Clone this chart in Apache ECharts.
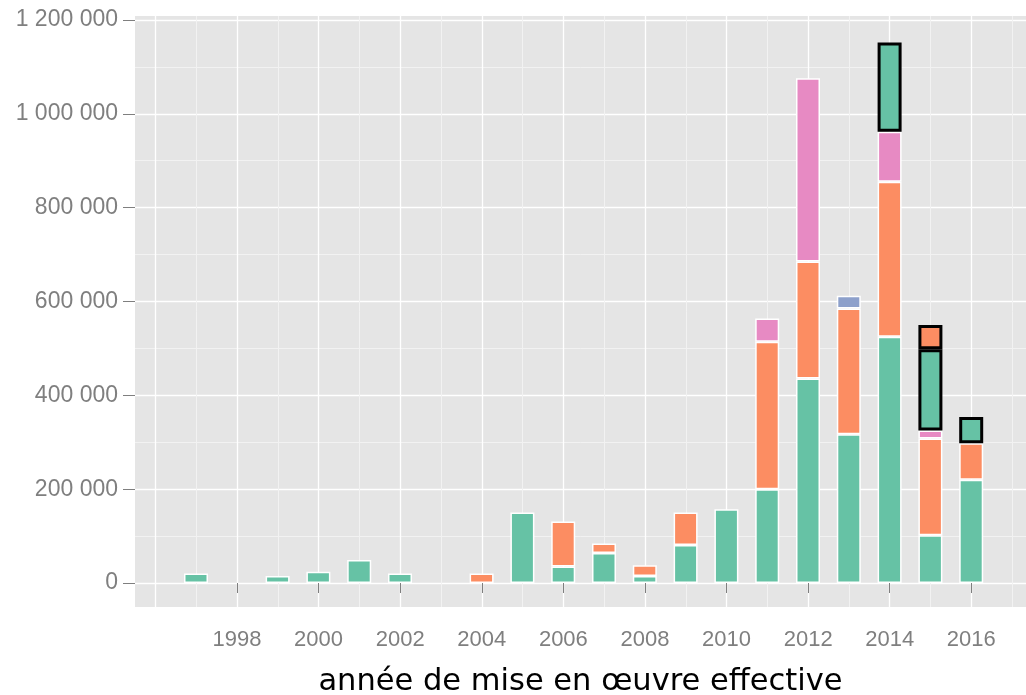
<!DOCTYPE html>
<html>
<head>
<meta charset="utf-8">
<script src="https://cdn.jsdelivr.net/npm/echarts@6/dist/echarts.min.js"></script>
<style>
html,body{margin:0;padding:0;background:#fff;}
#c{width:1026px;height:695px;}
</style>
</head>
<body>
<div id="c"></div>
<script>
const years = [1997,1998,1999,2000,2001,2002,2003,2004,2005,2006,2007,2008,2009,2010,2011,2012,2013,2014,2015,2016];
const teal   = [20000,0,15000,24000,49000,20000,0,0,150000,35000,64000,15000,81000,157000,200000,436000,317000,525000,102000,220000];
const orange = [0,0,0,0,0,0,0,20000,0,96000,20000,23000,69000,0,314000,249000,268000,330000,206000,78000];
const blue   = [0,0,0,0,0,0,0,0,0,0,0,0,0,0,0,0,27000,0,0,0];
const pink   = [0,0,0,0,0,0,0,0,0,0,0,0,0,0,50000,391000,0,107000,17000,0];
const tealHighlighted   = [0,0,0,0,0,0,0,0,0,0,0,0,0,0,0,0,0,190000,173000,56000];
const orangeHighlighted = [0,0,0,0,0,0,0,0,0,0,0,0,0,0,0,0,0,0,52000,0];
const xTickLabels = [1998,2000,2002,2004,2006,2008,2010,2012,2014,2016];
const yTickLabels = [0,200000,400000,600000,800000,1000000,1200000];
const yMinorLines = [100000,300000,500000,700000,900000,1100000];
const xGridMajor = [1996,1998,2000,2002,2004,2006,2008,2010,2012,2014,2016];
const xGridMinor = [1997,1999,2001,2003,2005,2007,2009,2011,2013,2015,2017];
const xTitle = 'année de mise en œuvre effective';

const X_MIN = 1995.5, X_MAX = 2017.34;
const Y_MIN = -51150, Y_MAX = 1208500;
const TOP = 16, BOTTOM = 88;

function toData(arr){ return arr.map(v => v ? v : null); }
function fmt(v){ return String(Math.round(v)).replace(/\B(?=(\d{3})+(?!\d))/g,' '); }

function barSeries(name, arr, color, border, bw){
  return {
    name: name, type:'bar', stack:'total', xAxisIndex:3, yAxisIndex:2,
    barWidth: 24,
    data: toData(arr),
    itemStyle:{color: color, borderColor: border, borderWidth: bw},
    emphasis:{disabled:true},
    z: border === '#000000' ? 4 : 3
  };
}

const hiddenAxis = {axisLine:{show:false}, axisTick:{show:false}, axisLabel:{show:false}, splitLine:{show:false}};

const chart = echarts.init(document.getElementById('c'), null, {renderer:'canvas'});
chart.setOption({
  animation:false,
  backgroundColor:'#ffffff',
  grid:[
    {left:135, right:0, top:TOP, bottom:BOTTOM, show:true, backgroundColor:'#E5E5E5', borderWidth:0, containLabel:false, outerBoundsMode:'none'},
    {left:175.6, right:34.4, top:TOP, bottom:BOTTOM, show:false, containLabel:false, outerBoundsMode:'none'}
  ],
  xAxis:[
    {type:'value', gridIndex:0, min:X_MIN, max:X_MAX, position:'bottom',
     axisLine:{show:false},
     axisTick:{show:true, length:10, customValues:xTickLabels, lineStyle:{color:'#7F7F7F', width:1}},
     axisLabel:{show:true, customValues:xTickLabels, color:'#7F7F7F', fontSize:22, fontFamily:'Liberation Sans', margin:22, formatter:v=>String(v)},
     splitLine:{show:false},
     name: xTitle, nameLocation:'middle', nameGap:60,
     nameTextStyle:{color:'#000000', fontSize:30.5, fontFamily:'DejaVu Sans'}},
    {type:'value', gridIndex:0, min:X_MIN, max:X_MAX, position:'bottom',
     axisLine:{show:false}, axisTick:{show:false, customValues:xGridMinor}, axisLabel:{show:false, customValues:xGridMinor},
     splitLine:{show:true, lineStyle:{color:'#F2F2F2', width:1}}},
    {type:'value', gridIndex:0, min:X_MIN, max:X_MAX, position:'bottom',
     axisLine:{show:false}, axisTick:{show:false, customValues:xGridMajor}, axisLabel:{show:false, customValues:xGridMajor},
     splitLine:{show:true, lineStyle:{color:'#FFFFFF', width:1.3}}},
    Object.assign({type:'category', gridIndex:1, data:years, boundaryGap:true}, hiddenAxis)
  ],
  yAxis:[
    {type:'value', gridIndex:0, min:Y_MIN, max:Y_MAX,
     axisLine:{show:false},
     axisTick:{show:true, length:12, customValues:yTickLabels, lineStyle:{color:'#7F7F7F', width:1}},
     axisLabel:{show:true, customValues:yTickLabels, color:'#7F7F7F', fontSize:23, fontFamily:'Liberation Sans', margin:17, formatter:fmt},
     splitLine:{show:true, lineStyle:{color:'#FFFFFF', width:1.3}}},
    {type:'value', gridIndex:0, min:Y_MIN, max:Y_MAX, position:'left',
     axisLine:{show:false}, axisTick:{show:false, customValues:yMinorLines}, axisLabel:{show:false, customValues:yMinorLines},
     splitLine:{show:true, lineStyle:{color:'#F2F2F2', width:1}}},
    Object.assign({type:'value', gridIndex:1, min:Y_MIN, max:Y_MAX}, hiddenAxis)
  ],
  series:[
    barSeries('teal', teal, '#66C2A5', '#ffffff', 1.5),
    barSeries('orange', orange, '#FC8D62', '#ffffff', 1.5),
    barSeries('blue', blue, '#8DA0CB', '#ffffff', 1.5),
    barSeries('pink', pink, '#E78AC3', '#ffffff', 1.5),
    barSeries('tealHighlighted', tealHighlighted, '#66C2A5', '#000000', 3),
    barSeries('orangeHighlighted', orangeHighlighted, '#FC8D62', '#000000', 3)
  ]
});
</script>
</body>
</html>
